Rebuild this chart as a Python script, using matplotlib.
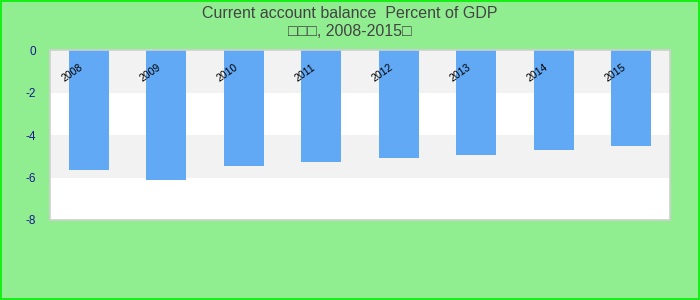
import matplotlib
matplotlib.use("Agg")
import matplotlib.pyplot as plt
from matplotlib.patches import Rectangle

years = ["2008", "2009", "2010", "2011", "2012", "2013", "2014", "2015"]
balance = [-5.65, -6.12, -5.45, -5.27, -5.08, -4.93, -4.70, -4.52]
y_ticks = [0, -2, -4, -6, -8]

plt.rcParams['font.family'] = ['Liberation Sans', 'DejaVu Sans']

fig = plt.figure(figsize=(7, 3), dpi=100, facecolor="#90ee90")
fig.patches.append(Rectangle((0.001, 0.002), 0.998, 0.995, transform=fig.transFigure,
                             fill=False, edgecolor="#00ee00", linewidth=1.2))

ax = fig.add_axes([50 / 700, 80 / 300, 620 / 700, 170 / 300])
ax.set_facecolor("white")

# alternating bands
for i in range(len(y_ticks) - 1):
    if i % 2 == 0:
        ax.axhspan(y_ticks[i + 1], y_ticks[i], color="#f2f2f2", zorder=0, lw=0)

x = list(range(len(years)))
ax.bar(x, balance, width=0.52, color="#61a8f5", zorder=2)

ax.set_xlim(-0.5, len(years) - 0.5)
ax.set_ylim(-8, 0)
ax.set_yticks(y_ticks)
ax.set_yticklabels([str(t) for t in y_ticks], color="#1a1a8c", fontsize=8.5)
ax.tick_params(axis="y", length=0, pad=10)
ax.set_xticks([])

for i, yr in enumerate(years):
    ax.text(i - 0.21, -1.08, yr, rotation=35, ha="center", va="center",
            fontsize=7.5, color="black", zorder=3)

for s in ax.spines.values():
    s.set_color("#d0d0d0")
    s.set_linewidth(1.2)

fig.text(0.5, 1 - 14 / 300, "Current account balance  Percent of GDP",
         ha="center", va="center", fontsize=11.5, color="#444444")
fig.text(0.5, 1 - 32 / 300, "□□□, 2008-2015□",
         ha="center", va="center", fontsize=11.5, color="#444444")

fig.savefig("out.png", dpi=100, facecolor=fig.get_facecolor())
